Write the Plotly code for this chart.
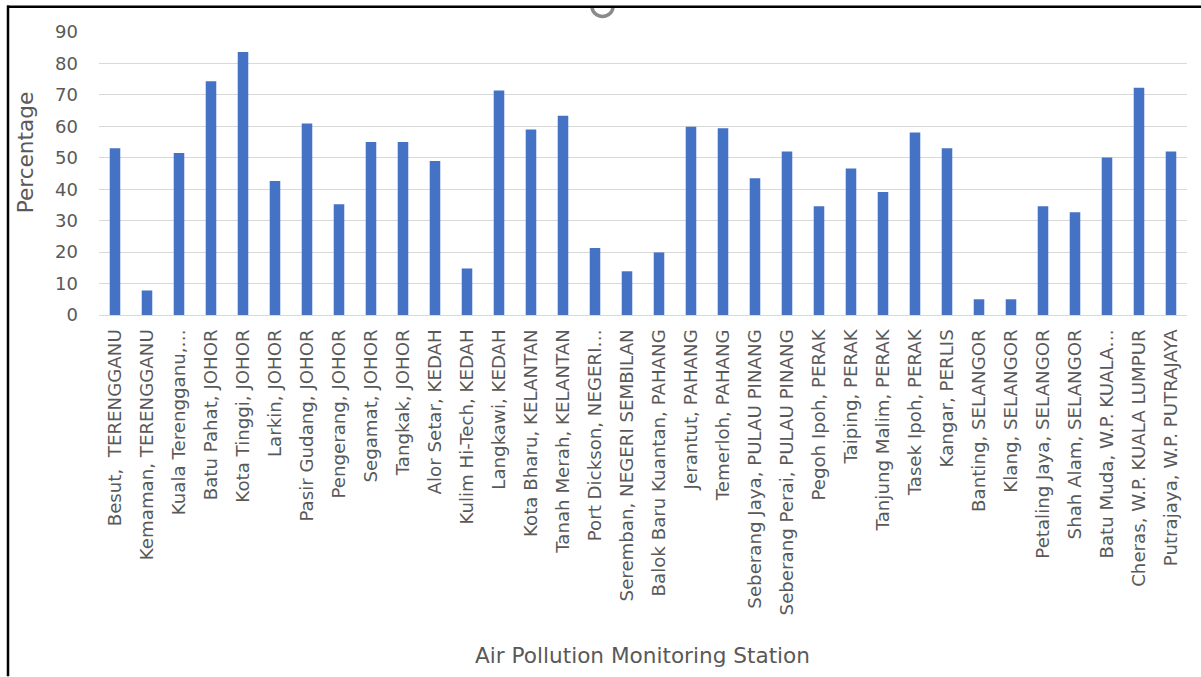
import plotly.graph_objects as go

stations = [
    "Besut,  TERENGGANU", "Kemaman, TERENGGANU", "Kuala Terengganu,…", "Batu Pahat, JOHOR",
    "Kota Tinggi, JOHOR", "Larkin, JOHOR", "Pasir Gudang, JOHOR", "Pengerang, JOHOR",
    "Segamat, JOHOR", "Tangkak, JOHOR", "Alor Setar, KEDAH", "Kulim Hi-Tech, KEDAH",
    "Langkawi, KEDAH", "Kota Bharu, KELANTAN", "Tanah Merah, KELANTAN", "Port Dickson, NEGERI…",
    "Seremban, NEGERI SEMBILAN", "Balok Baru Kuantan, PAHANG", "Jerantut, PAHANG", "Temerloh, PAHANG",
    "Seberang Jaya, PULAU PINANG", "Seberang Perai, PULAU PINANG", "Pegoh Ipoh, PERAK", "Taiping, PERAK",
    "Tanjung Malim, PERAK", "Tasek Ipoh, PERAK", "Kangar, PERLIS", "Banting, SELANGOR",
    "Klang, SELANGOR", "Petaling Jaya, SELANGOR", "Shah Alam, SELANGOR", "Batu Muda, W.P. KUALA…",
    "Cheras, W.P. KUALA LUMPUR", "Putrajaya, W.P. PUTRAJAYA",
]
percentages = [
    53.0, 7.8, 51.5, 74.3, 83.6, 42.6, 60.9, 35.2, 55.0, 55.0,
    49.0, 14.8, 71.4, 59.0, 63.4, 21.3, 13.9, 19.9, 59.9, 59.4,
    43.5, 52.0, 34.6, 46.6, 39.1, 58.0, 53.0, 5.0, 5.0, 34.6,
    32.7, 50.1, 72.3, 52.0,
]
y_ticks = [0, 10, 20, 30, 40, 50, 60, 70, 80, 90]

W, H = 1201, 677
L, R, T, B = 99, 1187, 31.5, 315

def px(x):
    return (x - L) / (R - L)

def py(y):
    return (B - y) / (B - T)

def pt(x, y):
    return f"{px(x):.5f},{py(y):.5f}"

FONT = "DejaVu Sans"
GREY = "#595959"

# lower half of the small clipped ring at the top edge
ring_path = ("M " + pt(592, 6) + " C " + pt(592, 11.5) + " " + pt(596.7, 16) + " " + pt(602.5, 16)
             + " C " + pt(608.3, 16) + " " + pt(613, 11.5) + " " + pt(613, 6))

fig = go.Figure(go.Bar(
    x=stations, y=percentages,
    marker=dict(color="#4472C4", line=dict(width=0)),
    width=0.33,
))

fig.update_layout(
    width=W, height=H, autosize=False,
    margin=dict(l=L, r=W - R, t=T, b=H - B, pad=0),
    paper_bgcolor="white", plot_bgcolor="white",
    showlegend=False,
    font=dict(family=FONT, color=GREY, size=15),
    xaxis=dict(
        type="category", tickangle=-90, showgrid=False, zeroline=False,
        showline=True, linecolor="#d9d9d9", linewidth=1,
        ticks="", tickfont=dict(family=FONT, size=18.2, color=GREY),
        ticklabelstandoff=6,
    ),
    yaxis=dict(
        range=[0, 90], tickvals=y_ticks, showgrid=True, gridcolor="#d9d9d9", gridwidth=1,
        zeroline=False, showline=False, ticks="",
        tickfont=dict(family=FONT, size=18, color=GREY),
        ticklabelstandoff=20,
    ),
    shapes=[
        dict(type="path", xref="paper", yref="paper", path=ring_path,
             line=dict(color="#8a8a8a", width=3.5)),
        dict(type="line", xref="paper", yref="paper", x0=px(8), x1=px(8), y0=py(5), y1=py(H),
             line=dict(color="black", width=2.5)),
        dict(type="line", xref="paper", yref="paper", x0=px(7), x1=px(W), y0=py(6.2), y1=py(6.2),
             line=dict(color="black", width=2.5)),
    ],
    annotations=[
        dict(text="Percentage", xref="paper", yref="paper", x=px(25), y=py(153),
             textangle=-90, showarrow=False, font=dict(family=FONT, size=21.6, color=GREY),
             xanchor="center", yanchor="middle"),
        dict(text="Air Pollution Monitoring Station", xref="paper", yref="paper", x=px(642.5), y=py(656),
             showarrow=False, font=dict(family=FONT, size=21.6, color=GREY),
             xanchor="center", yanchor="middle"),
    ],
)

fig.write_html("out.html", config={"displayModeBar": False},
               post_script="document.body.style.margin='0';")
